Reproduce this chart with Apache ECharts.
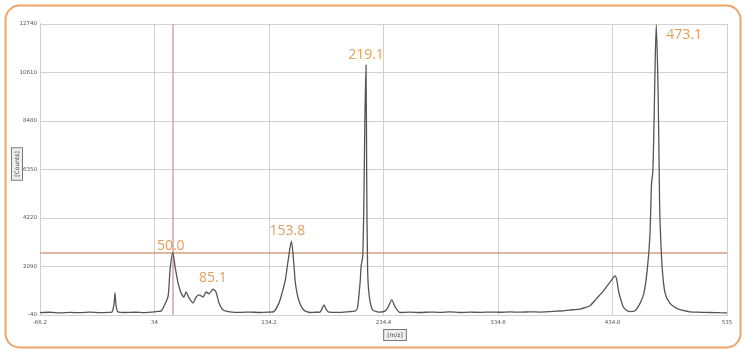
<!DOCTYPE html>
<html>
<head>
<meta charset="utf-8">
<script src="https://cdn.jsdelivr.net/npm/echarts@6/dist/echarts.min.js"></script>
<style>
  html, body { margin: 0; padding: 0; background: #ffffff; }
  #chart { width: 742px; height: 350px; }
</style>
</head>
<body>
<div id="chart"></div>
<script>
// Mass spectrum trace: m/z positions and detector counts
const mz = [
  -66.2, -57.5, -48.7, -39.9, -31.2, -22.4, -13.7, -6.7, -3.2, -1.4, -0.6, 0.3, 2.1,
  8.2, 17.0, 25.7, 31.8, 37.1,
  39.7, 42.3, 45.9, 47.6, 50.0, 52.0, 54.6, 57.2, 59.8, 61.6, 64.2, 67.7, 70.3, 73.0,
  76.5, 79.1, 81.7, 85.1, 87.8, 90.5, 94.0,
  100.1, 108.8, 117.6, 126.3, 133.3,
  138.4, 142.8, 145.6, 148.5, 150.9, 153.8, 155.9, 157.3, 160.2, 164.6, 170.1,
  174.5, 178.8, 180.6, 182.3, 184.1, 186.7, 194.6, 202.5,
  209.7, 211.7, 214.1, 214.8, 216.2, 217.2, 218.1, 219.1, 219.7, 220.5, 222.0, 224.9, 229.3,
  231.3, 235.7, 238.6, 241.6, 244.5, 248.8,
  257.6, 266.4, 275.1, 283.8, 292.6, 301.3, 310.1, 318.9, 327.6, 336.4, 345.1, 353.9,
  362.6, 371.4, 380.1, 386.2, 393.2, 399.4, 406.4, 410.7, 415.1, 421.0, 425.6, 429.7,
  434.1, 437.0, 438.5, 440.0, 441.3, 444.2, 446.6, 450.1, 454.5, 458.9,
  462.3, 465.2, 467.5, 469.0, 470.1, 471.2, 472.2, 473.1, 474.8, 476.0, 476.9, 478.4,
  480.8, 485.1, 491.0, 496.5, 502.6, 511.4, 520.1, 528.9, 535.0
];
const counts = [
  60, 80, 55, 75, 60, 85, 65, 75, 95, 450, 930, 390, 95,
  70, 80, 65, 85, 115,
  130, 340, 790, 1940, 2700, 2080, 1370, 930, 750, 970, 710, 490, 740, 840,
  750, 970, 890, 1090, 970, 490, 180,
  100, 75, 90, 70, 85,
  110, 470, 920, 1500, 2340, 3200, 2240, 1360, 620, 180, 70,
  80, 90, 240, 400, 220, 85, 75, 100,
  140, 290, 1500, 2090, 2540, 4840, 8540, 10940, 6040, 1940, 770, 180, 100,
  90, 130, 320, 620, 320, 70,
  85, 70, 90, 75, 95, 70, 85, 75, 90, 80, 95, 85,
  100, 90, 110, 130, 150, 190, 220, 280, 370, 690, 940, 1210,
  1500, 1680, 1510, 1040, 770, 320, 180, 110, 150, 470,
  920, 1940, 3420, 5780, 6240, 8540, 11240, 12700, 9540, 4900, 3420, 1940,
  920, 470, 250, 160, 100, 80, 70, 60, 55
];

// Labelled peak positions (m/z) and their heights
const peakMz = [50.0, 85.1, 153.8, 219.1, 473.1];
const peakCounts = [2700, 1090, 3200, 10940, 12700];

// Axis tick values and their printed labels
const xTicks = [-66.2, 34.0, 134.2, 234.4, 334.6, 434.8, 535.0];
const xTickLabels = ['-66.2', '34', '134.2', '234.4', '334.6', '434.8', '535'];
const yTicks = [-40, 2090, 4220, 6350, 8480, 10610, 12740];
const yTickLabels = ['-40', '2090', '4220', '6350', '8480', '10610', '12740'];

// Cursor cross-hair position
const cursorMz = 50.0;
const cursorCounts = 2686;

const spectrum = mz.map((m, i) => [m, counts[i]]);

const gridColor = '#d0d0d0';
const labelColor = '#db8633';

const peakLabelPos = {
  '50.0':  { position: 'top', distance: 0, offset: [-2, 0] },
  '85.1':  { position: 'top', distance: 4, offset: [0, 0] },
  '153.8': { position: 'top', distance: 3, offset: [-4, 0] },
  '219.1': { position: 'top', distance: 3, offset: [0, 0] },
  '473.1': { position: 'right', distance: 10, offset: [0, 10] }
};
const peaks = peakMz.map((m, i) => ({
  value: [m, peakCounts[i]],
  label: peakLabelPos[m.toFixed(1)]
}));

const chart = echarts.init(document.getElementById('chart'), null, { renderer: 'canvas' });

chart.setOption({
  animation: false,
  backgroundColor: '#ffffff',
  grid: { left: 40, right: 15, top: 24, bottom: 35 },
  xAxis: {
    type: 'value',
    min: xTicks[0],
    max: xTicks[xTicks.length - 1],
    axisLine: { show: true, onZero: false, lineStyle: { color: '#9a9a9a', width: 1 } },
    axisTick: { show: false },
    splitLine: { show: false },
    axisLabel: {
      customValues: xTicks,
      formatter: v => xTickLabels[xTicks.indexOf(v)] ?? '',
      fontSize: 5.5,
      color: '#555',
      margin: 5,
      fontFamily: 'DejaVu Sans'
    }
  },
  yAxis: {
    type: 'value',
    min: yTicks[0],
    max: yTicks[yTicks.length - 1],
    axisLine: { show: true, onZero: false, lineStyle: { color: '#9a9a9a', width: 1 } },
    axisTick: { show: false },
    splitLine: { show: false },
    axisLabel: {
      customValues: yTicks,
      formatter: v => yTickLabels[yTicks.indexOf(v)] ?? '',
      fontSize: 5.5,
      color: '#555',
      margin: 3,
      fontFamily: 'DejaVu Sans'
    }
  },
  series: [
    {
      // grid lines at tick positions
      type: 'line',
      data: [],
      silent: true,
      markLine: {
        silent: true,
        symbol: 'none',
        label: { show: false },
        lineStyle: { color: gridColor, width: 1, type: 'solid' },
        data: xTicks.map(v => ({ xAxis: v })).concat(yTicks.map(v => ({ yAxis: v })))
      }
    },
    {
      // cursor cross-hair
      type: 'line',
      data: [],
      silent: true,
      z: 3,
      markLine: {
        silent: true,
        symbol: 'none',
        label: { show: false },
        data: [
          { xAxis: cursorMz, lineStyle: { color: '#d6a3a3', width: 1.5, type: 'solid' } },
          { yAxis: cursorCounts, lineStyle: { color: '#d3a184', width: 1.5, type: 'solid' } }
        ]
      }
    },
    {
      name: 'Spectrum',
      type: 'line',
      data: spectrum,
      showSymbol: false,
      smooth: 0.25,
      z: 5,
      lineStyle: { color: '#555555', width: 1.3 },
      emphasis: { disabled: true }
    },
    {
      name: 'Peaks',
      type: 'scatter',
      data: peaks,
      symbolSize: 0,
      z: 6,
      label: {
        show: true,
        color: labelColor,
        fontSize: 14,
        fontFamily: 'Open Sans',
        formatter: p => p.value[0].toFixed(1)
      }
    }
  ],
  graphic: [
    {
      type: 'rect',
      left: 3, top: 3,
      shape: { width: 735, height: 342, r: 14 },
      style: { fill: 'none', stroke: '#f0a46a', lineWidth: 2 },
      silent: true
    },
    {
      type: 'text',
      x: 395, y: 335,
      style: {
        text: '[m/z]', fontSize: 6, fill: '#444', fontFamily: 'DejaVu Sans',
        align: 'center', verticalAlign: 'middle',
        borderColor: '#777', borderWidth: 1, padding: [2, 3], backgroundColor: '#eeeeee'
      }
    },
    {
      type: 'text',
      x: 17, y: 164,
      rotation: Math.PI / 2,
      style: {
        text: '[Counts]', fontSize: 6, fill: '#444', fontFamily: 'DejaVu Sans',
        align: 'center', verticalAlign: 'middle',
        borderColor: '#777', borderWidth: 1, padding: [2, 3], backgroundColor: '#eeeeee'
      }
    }
  ]
});
</script>
</body>
</html>
